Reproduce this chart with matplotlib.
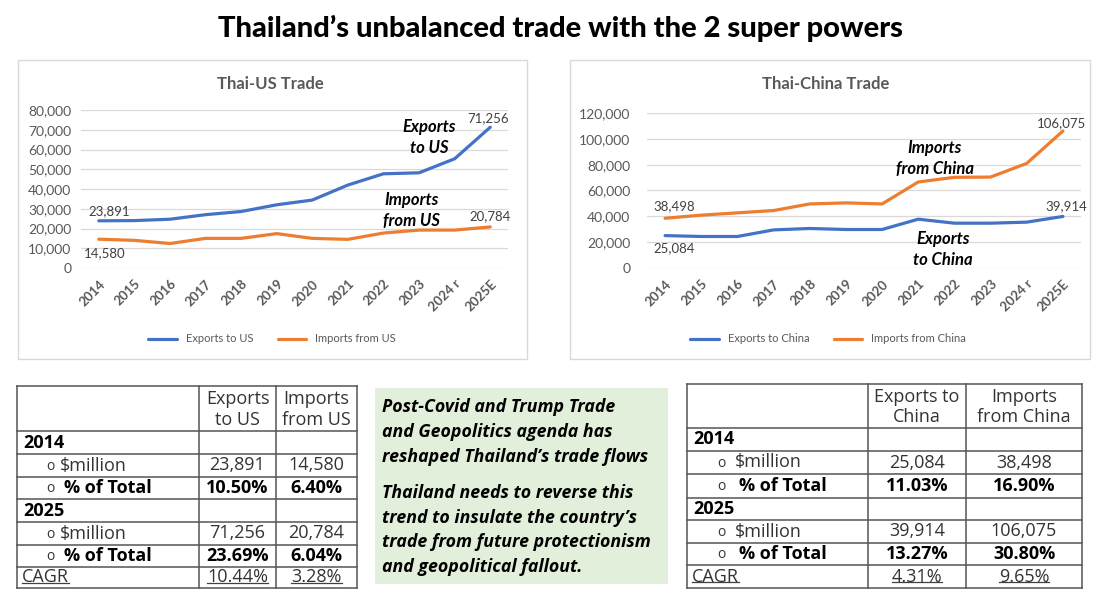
import matplotlib.pyplot as plt
import numpy as np
from matplotlib.ticker import FuncFormatter

plt.rcParams['font.family'] = ['Lato', 'DejaVu Sans']

W, H = 1098, 607

# ---- chart data ($ million) ----
years = ['2014', '2015', '2016', '2017', '2018', '2019', '2020', '2021',
         '2022', '2023', '2024 r', '2025E']
us_exports = [23891, 24000, 24700, 27000, 28600, 32000, 34400, 42000,
              47700, 48200, 55300, 71256]
us_imports = [14580, 14000, 12400, 15000, 15000, 17400, 15000, 14500,
              17700, 19200, 19200, 20784]
cn_exports = [25084, 24400, 24400, 29500, 30600, 29800, 29800, 37800,
              34700, 34700, 35500, 39914]
cn_imports = [38498, 40900, 42700, 44500, 49600, 50400, 49600, 66600,
              70200, 70400, 81000, 106075]

# ---- table data ----
row_labels = ['2014', '$million', '% of Total', '2025', '$million', '% of Total', 'CAGR']
row_kinds = ['year', 'bullet', 'bullet_bold', 'year', 'bullet', 'bullet_bold', 'under']
us_header = ['Exports\nto US', 'Imports\nfrom US']
us_values = [['', ''], ['23,891', '14,580'], ['10.50%', '6.40%'], ['', ''],
             ['71,256', '20,784'], ['23.69%', '6.04%'], ['10.44%', '3.28%']]
cn_header = ['Exports to\nChina', 'Imports\nfrom China']
cn_values = [['', ''], ['25,084', '38,498'], ['11.03%', '16.90%'], ['', ''],
             ['39,914', '106,075'], ['13.27%', '30.80%'], ['4.31%', '9.65%']]

note_1 = ['Post-Covid and Trump Trade', 'and Geopolitics agenda has',
          'reshaped Thailand\u2019s trade flows']
note_2 = ['Thailand needs to reverse this', 'trend to insulate the country\u2019s',
          'trade from future protectionism', 'and geopolitical fallout.']

BLUE = '#4472C4'
ORANGE = '#ED7D31'
GREY = '#595959'
TABLE_FONT = ['Open Sans', 'DejaVu Sans']


def rect(x0, y0, x1, y1):
    return [x0 / W, 1 - y1 / H, (x1 - x0) / W, (y1 - y0) / H]


fig = plt.figure(figsize=(W / 100, H / 100), dpi=100)
bg = fig.add_axes([0, 0, 1, 1])
bg.set_xlim(0, W)
bg.set_ylim(H, 0)
bg.axis('off')

bg.text(561, 28, 'Thailand\u2019s unbalanced trade with the 2 super powers',
        ha='center', va='center', fontsize=21, fontweight='black')

# chart frames
bg.add_patch(plt.Rectangle((18, 60), 509, 299, fill=False, ec='#d9d9d9', lw=1))
bg.add_patch(plt.Rectangle((570, 60), 520, 299, fill=False, ec='#d9d9d9', lw=1))


def trade_chart(box, title, title_x, exports, imports, ymax, step, names,
                legend_x, ypad, labels, notes):
    ax = fig.add_axes(rect(*box))
    ax.set_facecolor('none')
    x = np.arange(len(years))
    ax.plot(x, exports, color=BLUE, lw=2.3, label=names[0], solid_capstyle='round')
    ax.plot(x, imports, color=ORANGE, lw=2.3, label=names[1], solid_capstyle='round')
    ax.set_xlim(-0.5, len(years) - 0.5)
    ax.set_ylim(0, ymax)
    ax.set_yticks(np.arange(0, ymax + 1, step))
    ax.yaxis.set_major_formatter(FuncFormatter(lambda v, p: f'{v:,.0f}'))
    ax.grid(axis='y', color='#d9d9d9', lw=0.9)
    ax.set_axisbelow(True)
    for s in ax.spines.values():
        s.set_visible(False)
    ax.tick_params(axis='y', length=0, labelsize=10, labelcolor=GREY, pad=ypad)
    ax.tick_params(axis='x', length=0, labelsize=9.5, labelcolor=GREY, pad=7)
    ax.set_xticks(x, years, rotation=45, ha='right', rotation_mode='anchor',
                  fontweight='bold')
    ax.legend(loc='center', bbox_to_anchor=(legend_x / W, 1 - 339 / H),
              bbox_transform=fig.transFigure, ncol=2, frameon=False, fontsize=8,
              handlelength=2.6, columnspacing=2.2, labelcolor=GREY)
    bg.text(title_x, 84, title, ha='center', va='center', fontsize=12,
            fontweight='bold', color=GREY)
    for tx, ty, s in labels:
        ax.text(tx, ty, s, ha='center', va='center', fontsize=9.5, color='#404040')
    for tx, ty, s in notes:
        ax.text(tx, ty, s, ha='center', va='center', fontsize=12,
                fontweight='bold', fontstyle='italic', linespacing=1.4)
    return ax


trade_chart((81, 110, 508, 268), 'Thai-US Trade', 270, us_exports, us_imports,
            80000, 10000, ['Exports to US', 'Imports from US'], 272, 7,
            [(0.28, 28900, '23,891'), (0.17, 7660, '14,580'),
             (10.95, 76100, '71,256'), (11.0, 26400, '20,784')],
            [(9.28, 66100, 'Exports\nto US'), (8.8, 29200, 'Imports\nfrom US')])

trade_chart((647, 113, 1081, 268), 'Thai-China Trade', 826, cn_exports, cn_imports,
            120000, 20000, ['Exports to China', 'Imports from China'], 828, 12,
            [(0.26, 47500, '38,498'), (0.26, 15400, '25,084'),
             (10.95, 111800, '106,075'), (11.1, 47500, '39,914')],
            [(7.45, 84500, 'Imports\nfrom China'), (7.68, 14100, 'Exports\nto China')])

# ---- tables ----
renderer = fig.canvas.get_renderer()


def underline(t):
    bb = t.get_window_extent(renderer=renderer)
    x0, y0 = bg.transData.inverted().transform((bb.x0, bb.y0))
    x1, _ = bg.transData.inverted().transform((bb.x1, bb.y0))
    bg.plot([x0, x1], [y0 - 4, y0 - 4], color='#404040', lw=0.9)


def draw_table(xs, ys, header, values, bullet_x, text_x):
    for y in ys:
        bg.plot([xs[0], xs[-1]], [y, y], color='#555555', lw=1.1)
    for x in xs:
        bg.plot([x, x], [ys[0], ys[-1]], color='#555555', lw=1.1)
    for j, h in enumerate(header):
        bg.text((xs[j + 1] + xs[j + 2]) / 2, (ys[0] + ys[1]) / 2 + 1, h,
                ha='center', va='center', fontsize=13, color='#333333',
                linespacing=1.15, family=TABLE_FONT)
    for i, (lab, kind) in enumerate(zip(row_labels, row_kinds)):
        yc = (ys[i + 1] + ys[i + 2]) / 2
        bold = kind in ('year', 'bullet_bold')
        if kind == 'year':
            bg.text(xs[0] + 6, yc, lab, ha='left', va='center', fontsize=13,
                    fontweight='bold', color='black', family=TABLE_FONT)
        elif kind == 'under':
            t = bg.text(xs[0] + 5, yc, lab, ha='left', va='center', fontsize=13,
                        color='#333333', family=TABLE_FONT)
            underline(t)
        else:
            bg.text(bullet_x, yc + 1, 'o', ha='center', va='center', fontsize=10,
                    color='#333333', family=TABLE_FONT)
            bg.text(text_x + (4 if bold else 0), yc, lab, ha='left', va='center',
                    fontsize=13, fontweight='bold' if bold else 'normal',
                    color='black' if bold else '#333333', family=TABLE_FONT)
        for j, v in enumerate(values[i]):
            if not v:
                continue
            t = bg.text((xs[j + 1] + xs[j + 2]) / 2, yc, v, ha='center', va='center',
                        fontsize=13, fontweight='bold' if bold else 'normal',
                        color='black' if bold else '#333333', family=TABLE_FONT)
            if kind == 'under':
                underline(t)


draw_table([17, 199, 276, 357], [386, 431, 454, 477, 499, 522, 545, 567, 588],
           us_header, us_values, 50, 60)
draw_table([687, 868, 966, 1082], [384, 428, 451, 474, 498, 520, 543, 565, 588],
           cn_header, cn_values, 721, 735)

# ---- note box ----
bg.add_patch(plt.Rectangle((375, 388), 293, 196, fc='#e2efda', ec='none'))
for k, line in enumerate(note_1):
    bg.text(382, 407 + 25 * k, line, ha='left', va='center', fontsize=12.8,
            fontweight='bold', fontstyle='italic', family=TABLE_FONT)
for k, line in enumerate(note_2):
    bg.text(382, 493 + 24.7 * k, line, ha='left', va='center', fontsize=12.8,
            fontweight='bold', fontstyle='italic', family=TABLE_FONT)

fig.savefig('out.png', dpi=100)
